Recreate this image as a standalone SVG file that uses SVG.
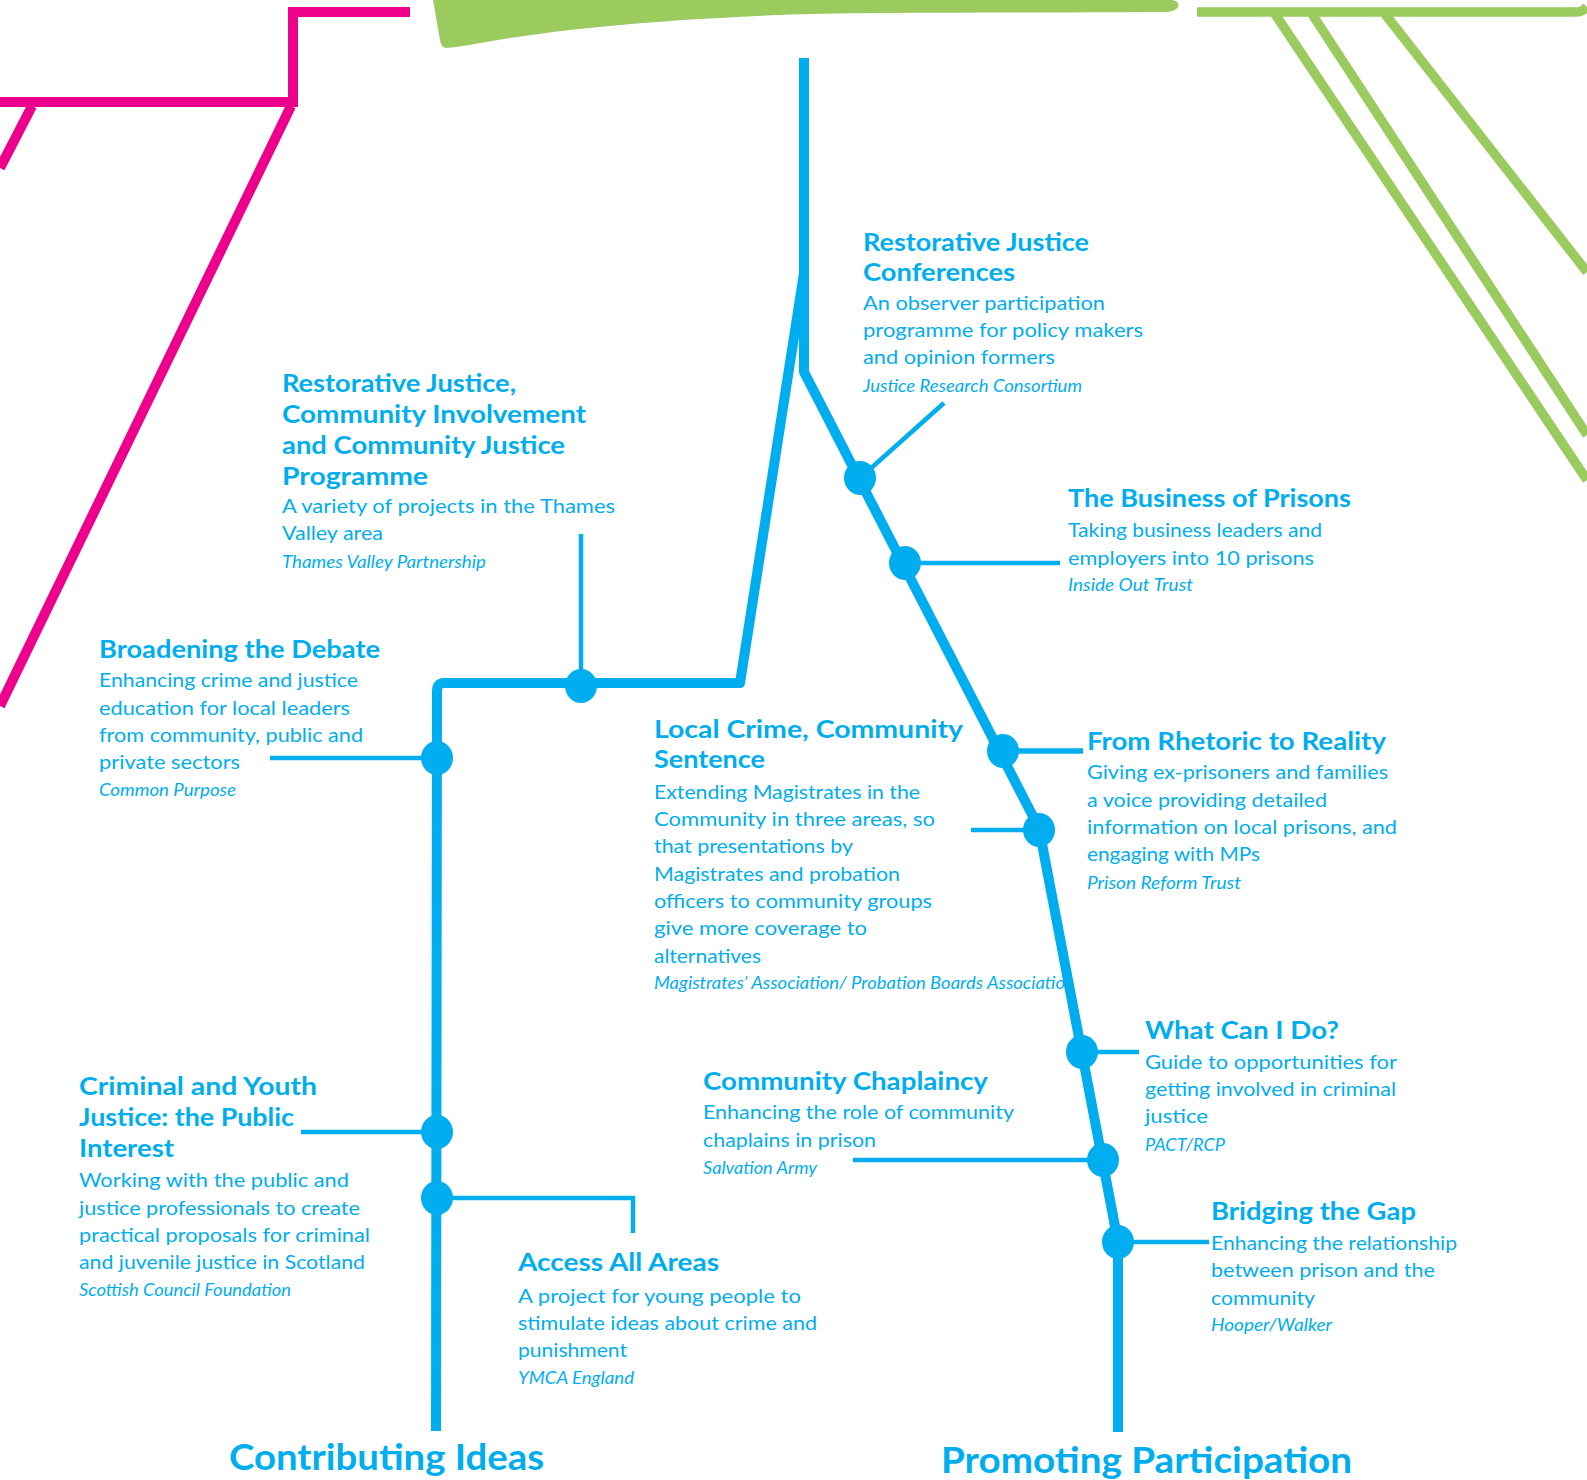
<svg xmlns="http://www.w3.org/2000/svg" width="1587" height="1480" viewBox="0 0 1587 1480">
<style>
text{fill:#00AEEF;font-family:Lato,"Open Sans","Liberation Sans",sans-serif}
.t{font-size:24px;font-weight:bold}
.b{font-size:20px}
.i{font-size:17px;font-style:italic}
.big{font-size:36px;font-weight:bold}
.pink{fill:none;stroke:#EC008C;stroke-width:10}
.green{fill:none;stroke:#9BCA5F;stroke-width:9.5}
.main{fill:none;stroke:#00AEEF;stroke-width:10;stroke-linejoin:round}
.br{fill:none;stroke:#00AEEF;stroke-width:4.5}
.dot{fill:#00AEEF}
</style>
<rect width="1587" height="1480" fill="#fff"/>
<g id="decor-pink">
<path class="pink" d="M410,12 H293 V102 H0"/>
<path class="pink" d="M291,106 L0,706"/>
<path class="pink" d="M32,106 L0,168"/>
</g>
<g id="decor-green">
<path d="M433,0 H1170 Q1180,0 1178,7 Q1175,12 1165,12 C1000,13 850,12 780,15 C650,20 560,30 510,38 C480,43 460,47 446,48 Q441,47 440,40 Z" fill="#9BCA5F"/>
<path class="green" d="M1197,12 H1576 Q1582,12 1587,7"/>
<path class="green" d="M1275,14 L1587,480"/>
<path class="green" d="M1312,14 L1587,435"/>
<path class="green" d="M1385,14 L1587,272"/>
</g>
<g id="connectors">
<path class="main" d="M804,58 V273 L740,683 H444 Q437,683 437,691 L436,1431"/>
<path class="main" d="M804,58 V372 L1039,828 L1118,1242 V1432"/>
<path class="br" d="M860,478 L944,403"/>
<path class="br" d="M905,563 H1060"/>
<path class="br" d="M1003,751 H1083" style="stroke-width:5.5"/>
<path class="br" d="M1039,830 H971"/>
<path class="br" d="M1082,1052 H1139"/>
<path class="br" d="M1103,1160 H853"/>
<path class="br" d="M1118,1242 H1209"/>
<path class="br" d="M581,686 V534"/>
<path class="br" d="M437,758 H270"/>
<path class="br" d="M437,1132 H301"/>
<path class="br" d="M437,1198 H633 V1233"/>
</g>
<g id="node-rj-conferences">
<ellipse class="dot" cx="860" cy="478" rx="16" ry="17"/>
<text class="t" x="863" y="251" textLength="226" lengthAdjust="spacingAndGlyphs">Restorative Justice</text>
<text class="t" x="863" y="281" textLength="152" lengthAdjust="spacingAndGlyphs">Conferences</text>
<text class="b" x="863" y="310" textLength="242" lengthAdjust="spacingAndGlyphs">An observer participation</text>
<text class="b" x="863" y="337" textLength="280" lengthAdjust="spacingAndGlyphs">programme for policy makers</text>
<text class="b" x="863" y="364" textLength="192" lengthAdjust="spacingAndGlyphs">and opinion formers</text>
<text class="i" x="863" y="392" textLength="219" lengthAdjust="spacingAndGlyphs">Justice Research Consortium</text>
</g>
<g id="node-rj-community">
<ellipse class="dot" cx="581" cy="686" rx="16" ry="17"/>
<text class="t" x="282" y="392" textLength="234" lengthAdjust="spacingAndGlyphs">Restorative Justice,</text>
<text class="t" x="282" y="423" textLength="304" lengthAdjust="spacingAndGlyphs">Community Involvement</text>
<text class="t" x="282" y="454" textLength="283" lengthAdjust="spacingAndGlyphs">and Community Justice</text>
<text class="t" x="282" y="485" textLength="146" lengthAdjust="spacingAndGlyphs">Programme</text>
<text class="b" x="282" y="513" textLength="333" lengthAdjust="spacingAndGlyphs">A variety of projects in the Thames</text>
<text class="b" x="282" y="540" textLength="101" lengthAdjust="spacingAndGlyphs">Valley area</text>
<text class="i" x="282" y="568" textLength="204" lengthAdjust="spacingAndGlyphs">Thames Valley Partnership</text>
</g>
<g id="node-business">
<ellipse class="dot" cx="905" cy="563" rx="16" ry="17"/>
<text class="t" x="1068" y="507" textLength="283" lengthAdjust="spacingAndGlyphs">The Business of Prisons</text>
<text class="b" x="1068" y="537" textLength="254" lengthAdjust="spacingAndGlyphs">Taking business leaders and</text>
<text class="b" x="1068" y="565" textLength="246" lengthAdjust="spacingAndGlyphs">employers into 10 prisons</text>
<text class="i" x="1068" y="591" textLength="125" lengthAdjust="spacingAndGlyphs">Inside Out Trust</text>
</g>
<g id="node-broadening">
<ellipse class="dot" cx="437" cy="758" rx="16" ry="17"/>
<text class="t" x="99" y="658" textLength="281" lengthAdjust="spacingAndGlyphs">Broadening the Debate</text>
<text class="b" x="99" y="687" textLength="259" lengthAdjust="spacingAndGlyphs">Enhancing crime and justice</text>
<text class="b" x="99" y="715" textLength="251" lengthAdjust="spacingAndGlyphs">education for local leaders</text>
<text class="b" x="99" y="742" textLength="264" lengthAdjust="spacingAndGlyphs">from community, public and</text>
<text class="b" x="99" y="769" textLength="141" lengthAdjust="spacingAndGlyphs">private sectors</text>
<text class="i" x="99" y="796" textLength="137" lengthAdjust="spacingAndGlyphs">Common Purpose</text>
</g>
<g id="node-local-crime">
<ellipse class="dot" cx="1039" cy="830" rx="16" ry="17"/>
<text class="t" x="654" y="738" textLength="309" lengthAdjust="spacingAndGlyphs">Local Crime, Community</text>
<text class="t" x="654" y="768" textLength="111" lengthAdjust="spacingAndGlyphs">Sentence</text>
<text class="b" x="654" y="799" textLength="266" lengthAdjust="spacingAndGlyphs">Extending Magistrates in the</text>
<text class="b" x="654" y="826" textLength="281" lengthAdjust="spacingAndGlyphs">Community in three areas, so</text>
<text class="b" x="654" y="853" textLength="199" lengthAdjust="spacingAndGlyphs">that presentations by</text>
<text class="b" x="654" y="881" textLength="246" lengthAdjust="spacingAndGlyphs">Magistrates and probation</text>
<text class="b" x="654" y="908" textLength="278" lengthAdjust="spacingAndGlyphs">officers to community groups</text>
<text class="b" x="654" y="935" textLength="213" lengthAdjust="spacingAndGlyphs">give more coverage to</text>
<text class="b" x="654" y="963" textLength="107" lengthAdjust="spacingAndGlyphs">alternatives</text>
<text class="i" x="654" y="989" textLength="411" lengthAdjust="spacingAndGlyphs">Magistrates’ Association/ Probation Boards Associatio</text>
</g>
<g id="node-rhetoric">
<ellipse class="dot" cx="1003" cy="751" rx="16" ry="17"/>
<text class="t" x="1087" y="750" textLength="299" lengthAdjust="spacingAndGlyphs">From Rhetoric to Reality</text>
<text class="b" x="1087" y="779" textLength="301" lengthAdjust="spacingAndGlyphs">Giving ex-prisoners and families</text>
<text class="b" x="1087" y="807" textLength="240" lengthAdjust="spacingAndGlyphs">a voice providing detailed</text>
<text class="b" x="1087" y="834" textLength="310" lengthAdjust="spacingAndGlyphs">information on local prisons, and</text>
<text class="b" x="1087" y="861" textLength="173" lengthAdjust="spacingAndGlyphs">engaging with MPs</text>
<text class="i" x="1087" y="889" textLength="154" lengthAdjust="spacingAndGlyphs">Prison Reform Trust</text>
</g>
<g id="node-what-can-i-do">
<ellipse class="dot" cx="1082" cy="1052" rx="16" ry="17"/>
<text class="t" x="1145" y="1039" textLength="194" lengthAdjust="spacingAndGlyphs">What Can I Do?</text>
<text class="b" x="1145" y="1069" textLength="252" lengthAdjust="spacingAndGlyphs">Guide to opportunities for</text>
<text class="b" x="1145" y="1096" textLength="251" lengthAdjust="spacingAndGlyphs">getting involved in criminal</text>
<text class="b" x="1145" y="1123" textLength="63" lengthAdjust="spacingAndGlyphs">justice</text>
<text class="i" x="1145" y="1151" textLength="80" lengthAdjust="spacingAndGlyphs">PACT/RCP</text>
</g>
<g id="node-chaplaincy">
<ellipse class="dot" cx="1103" cy="1160" rx="16" ry="17"/>
<text class="t" x="703" y="1090" textLength="285" lengthAdjust="spacingAndGlyphs">Community Chaplaincy</text>
<text class="b" x="703" y="1119" textLength="311" lengthAdjust="spacingAndGlyphs">Enhancing the role of community</text>
<text class="b" x="703" y="1147" textLength="173" lengthAdjust="spacingAndGlyphs">chaplains in prison</text>
<text class="i" x="703" y="1174" textLength="114" lengthAdjust="spacingAndGlyphs">Salvation Army</text>
</g>
<g id="node-criminal-youth">
<ellipse class="dot" cx="437" cy="1132" rx="16" ry="17"/>
<text class="t" x="79" y="1095" textLength="238" lengthAdjust="spacingAndGlyphs">Criminal and Youth</text>
<text class="t" x="79" y="1126" textLength="215" lengthAdjust="spacingAndGlyphs">Justice: the Public</text>
<text class="t" x="79" y="1157" textLength="95" lengthAdjust="spacingAndGlyphs">Interest</text>
<text class="b" x="79" y="1187" textLength="270" lengthAdjust="spacingAndGlyphs">Working with the public and</text>
<text class="b" x="79" y="1215" textLength="281" lengthAdjust="spacingAndGlyphs">justice professionals to create</text>
<text class="b" x="79" y="1242" textLength="291" lengthAdjust="spacingAndGlyphs">practical proposals for criminal</text>
<text class="b" x="79" y="1269" textLength="286" lengthAdjust="spacingAndGlyphs">and juvenile justice in Scotland</text>
<text class="i" x="79" y="1296" textLength="212" lengthAdjust="spacingAndGlyphs">Scottish Council Foundation</text>
</g>
<g id="node-access">
<ellipse class="dot" cx="437" cy="1198" rx="16" ry="17"/>
<text class="t" x="518" y="1271" textLength="201" lengthAdjust="spacingAndGlyphs">Access All Areas</text>
<text class="b" x="518" y="1303" textLength="283" lengthAdjust="spacingAndGlyphs">A project for young people to</text>
<text class="b" x="518" y="1330" textLength="299" lengthAdjust="spacingAndGlyphs">stimulate ideas about crime and</text>
<text class="b" x="518" y="1357" textLength="109" lengthAdjust="spacingAndGlyphs">punishment</text>
<text class="i" x="518" y="1384" textLength="116" lengthAdjust="spacingAndGlyphs">YMCA England</text>
</g>
<g id="node-bridging">
<ellipse class="dot" cx="1118" cy="1242" rx="16" ry="17"/>
<text class="t" x="1211" y="1220" textLength="205" lengthAdjust="spacingAndGlyphs">Bridging the Gap</text>
<text class="b" x="1211" y="1250" textLength="246" lengthAdjust="spacingAndGlyphs">Enhancing the relationship</text>
<text class="b" x="1211" y="1277" textLength="224" lengthAdjust="spacingAndGlyphs">between prison and the</text>
<text class="b" x="1211" y="1305" textLength="104" lengthAdjust="spacingAndGlyphs">community</text>
<text class="i" x="1211" y="1331" textLength="121" lengthAdjust="spacingAndGlyphs">Hooper/Walker</text>
</g>
<g id="label-contributing">
<text class="big" x="229" y="1470" textLength="315" lengthAdjust="spacingAndGlyphs">Contributing Ideas</text>
</g>
<g id="label-promoting">
<text class="big" x="941" y="1473" textLength="411" lengthAdjust="spacingAndGlyphs">Promoting Participation</text>
</g>
</svg>
